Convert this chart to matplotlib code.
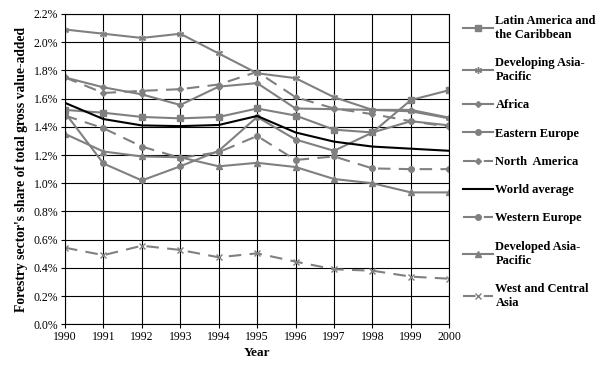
import matplotlib
matplotlib.use('Agg')
import matplotlib.pyplot as plt
from matplotlib.ticker import FuncFormatter

years = list(range(1990, 2001))

# forestry share of gross value-added, in %
latin = [1.52, 1.50, 1.47, 1.46, 1.47, 1.53, 1.48, 1.38, 1.36, 1.59, 1.66]
dev_asia = [2.09, 2.06, 2.03, 2.06, 1.92, 1.78, 1.745, 1.61, 1.52, 1.51, 1.46]
africa = [1.75, 1.68, 1.63, 1.555, 1.685, 1.71, 1.53, 1.525, 1.52, 1.52, 1.465]
east_eu = [1.50, 1.14, 1.02, 1.12, 1.23, 1.47, 1.31, 1.23, 1.36, 1.44, 1.41]
north_am = [1.75, 1.64, 1.655, 1.667, 1.70, 1.79, 1.61, 1.53, 1.49, 1.44, 1.40]
world = [1.57, 1.455, 1.41, 1.405, 1.413, 1.477, 1.36, 1.295, 1.26, 1.245, 1.23]
west_eu = [1.48, 1.39, 1.26, 1.18, 1.22, 1.335, 1.165, 1.19, 1.105, 1.10, 1.10]
dev_ap = [1.35, 1.225, 1.19, 1.184, 1.12, 1.145, 1.115, 1.03, 1.00, 0.935, 0.935]
wca = [0.543, 0.49, 0.557, 0.527, 0.475, 0.503, 0.444, 0.39, 0.38, 0.338, 0.323]

plt.rcParams['font.family'] = ['Liberation Serif', 'DejaVu Serif']

fig = plt.figure(figsize=(6.05, 3.71), dpi=100)
ax = fig.add_axes([0.1074, 0.1259, 0.6353, 0.8364])

grey = '#808080'
lw = 1.5
ms = 4
dash = (0, (6, 4))

ax.plot(years, latin, color=grey, lw=lw, marker='s', ms=ms, label='Latin America and\nthe Caribbean')
ax.plot(years, dev_asia, color=grey, lw=lw, marker=(6, 2, 0), ms=ms + 1, label='Developing Asia-\nPacific')
ax.plot(years, africa, color=grey, lw=lw, marker='D', ms=ms - 1, label='Africa')
ax.plot(years, east_eu, color=grey, lw=lw, marker='o', ms=ms, label='Eastern Europe')
ax.plot(years, north_am, color=grey, lw=lw, ls=dash, marker='D', ms=ms - 1, label='North  America')
ax.plot(years, world, color='black', lw=lw, label='World average')
ax.plot(years, west_eu, color=grey, lw=lw, ls=dash, marker='o', ms=ms, label='Western Europe')
ax.plot(years, dev_ap, color=grey, lw=lw, marker='^', ms=ms, label='Developed Asia-\nPacific')
ax.plot(years, wca, color=grey, lw=lw, ls=dash, marker='x', ms=ms, label='West and Central\nAsia')

ax.set_xlim(1990, 2000)
ax.set_ylim(0, 2.2)
ax.set_xticks(years)
ax.set_yticks([i * 0.2 for i in range(12)])
ax.yaxis.set_major_formatter(FuncFormatter(lambda v, p: f'{v:.1f}%'))
ax.grid(True, color='black', lw=0.8)
for s in ax.spines.values():
    s.set_color('black')
    s.set_linewidth(0.8)
ax.tick_params(length=3, width=0.8, labelsize=8.5, colors='black', pad=2)

ax.set_xlabel('Year', fontweight='bold', fontsize=9.5, labelpad=3)
ax.set_ylabel("Forestry sector's share of total gross value-added", fontweight='bold', fontsize=9.8, labelpad=4)

fig.legend(loc='upper left', bbox_to_anchor=(0.757, 0.972), frameon=False,
           prop={'weight': 'bold', 'size': 9}, handlelength=2.4, handletextpad=0.2,
           labelspacing=1.3, borderaxespad=0)

fig.savefig('out.png', dpi=100, facecolor='white')
